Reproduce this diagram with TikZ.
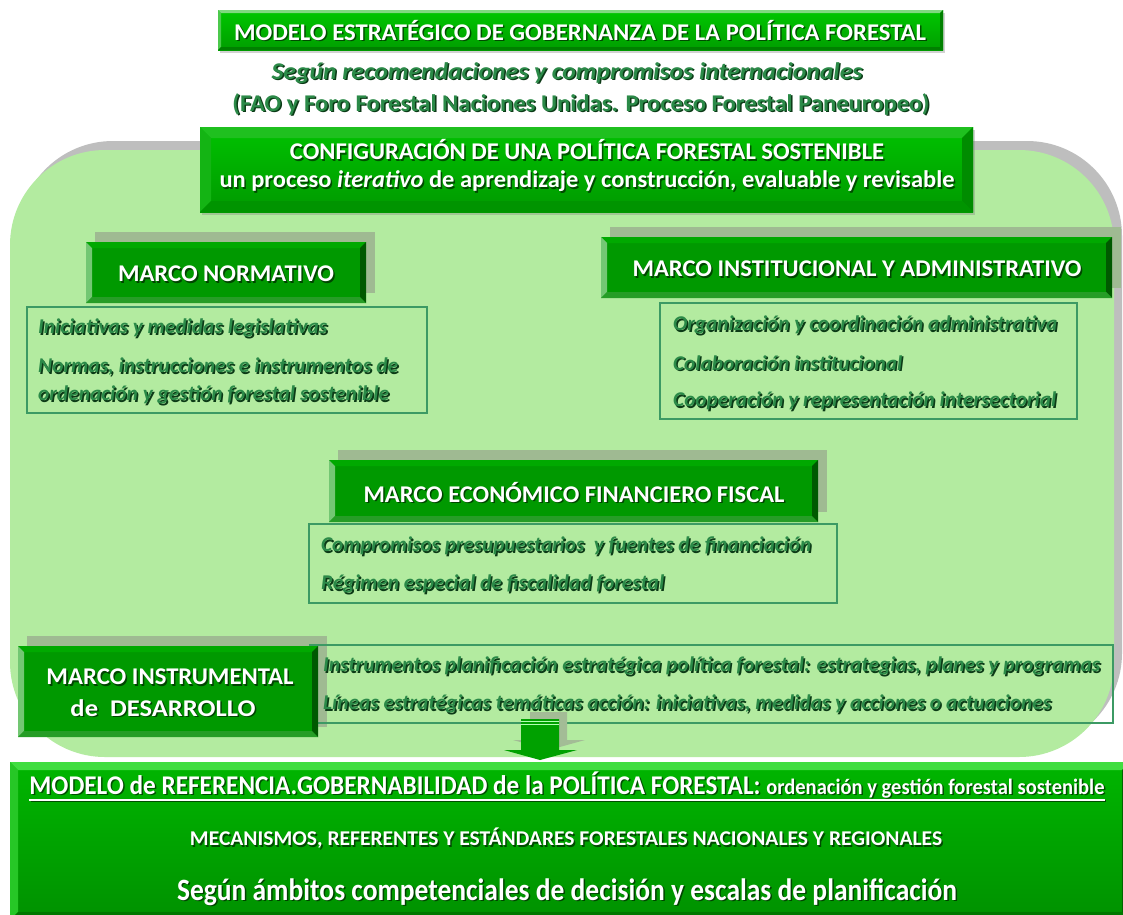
\documentclass[tikz,border=0pt]{standalone}
\usepackage{fontspec}
\setmainfont{Carlito}
\usepackage{graphicx}
\usetikzlibrary{calc,shadows}

\definecolor{panelc}{HTML}{B3EBA0}
\definecolor{pshadow}{HTML}{BEBEBE}
\definecolor{gface}{HTML}{009900}
\definecolor{boxshadow}{HTML}{9FBA92}
\definecolor{tgreen}{HTML}{2B8A48}
\definecolor{tshadow}{HTML}{0B3A16}
\definecolor{tbord}{HTML}{3C9A64}
\definecolor{arrsh}{HTML}{A3BC96}

\newcommand{\myfs}[1]{\fontsize{#1}{#1}\selectfont\bfseries}
\newcommand{\mywt}[5]{%
  \node[anchor=#2, inner sep=0pt, text=black, opacity=0.55] (#1-s) at ($#3+(1.5,1.6)$) {\resizebox{#4pt}{\height}{#5}};
  \node[anchor=#2, inner sep=0pt, text=white] (#1) at #3 {\resizebox{#4pt}{\height}{#5}};}
\newcommand{\mygt}[5]{%
  \node[anchor=#2, inner sep=0pt, text=tshadow] (#1-s) at ($#3+(1.5,1.5)$) {\resizebox{#4pt}{\height}{#5}};
  \node[anchor=#2, inner sep=0pt, text=tgreen] (#1) at #3 {\resizebox{#4pt}{\height}{#5}};}
\newcommand{\mybevel}[6]{%
  \fill[#3] (#1.north west) -- (#1.north east) -- ([shift={(-#2pt,-#2pt)}]#1.north east) -- ([shift={(#2pt,-#2pt)}]#1.north west) -- cycle;
  \fill[#4] (#1.north west) -- ([shift={(#2pt,-#2pt)}]#1.north west) -- ([shift={(#2pt,#2pt)}]#1.south west) -- (#1.south west) -- cycle;
  \fill[#5] (#1.north east) -- (#1.south east) -- ([shift={(-#2pt,#2pt)}]#1.south east) -- ([shift={(-#2pt,-#2pt)}]#1.north east) -- cycle;
  \fill[#6] (#1.south west) -- ([shift={(#2pt,#2pt)}]#1.south west) -- ([shift={(-#2pt,#2pt)}]#1.south east) -- (#1.south east) -- cycle;}
\newcommand{\marcobevel}[1]{\mybevel{#1}{6}{fill=green!55!black!75!green}{fill=green!60!black!55!white}{fill=green!35!black}{fill=green!55!black!85!white}}

\tikzset{
  panelsh/.style={fill=pshadow, rounded corners=95pt, minimum width=1104pt, minimum height=607pt, inner sep=0pt, outer sep=0pt},
  panelbx/.style={panelsh, fill=panelc},
  gbox/.style={fill=gface, inner sep=0pt, outer sep=0pt},
  gshadow/.style={fill=boxshadow, inner sep=0pt, outer sep=0pt},
  tbox/.style={draw=tbord, line width=1.1pt, inner sep=0pt, outer sep=0pt},
}

\begin{document}
\begin{tikzpicture}[x=1pt,y=-1pt]
\useasboundingbox (0,0) rectangle (1123,914);
\fill[white] (0,0) rectangle (1123,914);

% big panel
\node[panelsh] (panelsh) at (570,444.5) {};
\node[panelbx] (panel) at (562,453.5) {};

% title
\node[gbox, top color=green!60!black!55!green, bottom color=green!62!black, minimum width=725pt, minimum height=40pt,
      drop shadow={shadow xshift=1.5pt, shadow yshift=-3pt, opacity=0.35}] (title) at (580.5,30) {};
\mybevel{title}{3}{fill=green!70!black!50!white}{fill=green!70!black!70!white}{fill=green!50!black}{fill=green!50!black}
\mywt{titlet}{center}{(580,30)}{692}{\myfs{24}MODELO ESTRATÉGICO DE GOBERNANZA DE LA POLÍTICA FORESTAL}

% subtitles
\mygt{sub1}{center}{(567,73)}{591}{\myfs{24}\itshape Según recomendaciones y compromisos internacionales}
\mygt{sub2}{center}{(581,104)}{697}{\myfs{24}(FAO y Foro Forestal Naciones Unidas. Proceso Forestal Paneuropeo)}

% configuracion
\node[gbox, top color=green!72!black!85!green, bottom color=green!60!black, minimum width=773pt, minimum height=85pt,
      drop shadow={shadow xshift=2pt, shadow yshift=-3pt, opacity=0.35}] (config) at (586.5,169.5) {};
\mybevel{config}{11}{fill=green!72!black!88!white}{fill=green!68!black!92!white}{fill=green!55!black}{fill=green!58!black}
\mywt{conf1}{center}{(587,150)}{594}{\myfs{24}CONFIGURACIÓN DE UNA POLÍTICA FORESTAL SOSTENIBLE}
\mywt{conf2}{center}{(587,181)}{735}{\myfs{24}un proceso \textit{iterativo} de aprendizaje y construcción, evaluable y revisable}

% marco normativo
\node[gshadow, minimum width=280pt, minimum height=61pt] (mnsh) at (235,262.5) {};
\node[tbox, minimum width=400pt, minimum height=106pt] (mntx) at (227,360) {};
\node[gbox, minimum width=280pt, minimum height=61pt] (mn) at (226,272.5) {};
\marcobevel{mn}
\mywt{mnt}{center}{(226,274)}{216}{\myfs{24}MARCO NORMATIVO}
\mygt{mn1}{west}{(38,328)}{289}{\myfs{21}\itshape Iniciativas y medidas legislativas}
\mygt{mn2}{west}{(38,367)}{360}{\myfs{21}\itshape Normas, instrucciones e instrumentos de}
\mygt{mn3}{west}{(38,395)}{351}{\myfs{21}\itshape ordenación y gestión forestal sostenible}

% marco institucional
\node[gshadow, minimum width=511pt, minimum height=61pt] (mish) at (865.5,257.5) {};
\node[tbox, minimum width=417pt, minimum height=116pt] (mitx) at (868.5,361) {};
\node[gbox, minimum width=511pt, minimum height=61pt] (mi) at (856.5,267.5) {};
\marcobevel{mi}
\mywt{mit}{center}{(857,269)}{449}{\myfs{24}MARCO INSTITUCIONAL Y ADMINISTRATIVO}
\mygt{mi1}{west}{(673,325)}{384}{\myfs{21}\itshape Organización y coordinación administrativa}
\mygt{mi2}{west}{(673,363)}{229}{\myfs{21}\itshape Colaboración institucional}
\mygt{mi3}{west}{(673,401)}{383}{\myfs{21}\itshape Cooperación y representación intersectorial}

% marco economico
\node[gshadow, minimum width=489pt, minimum height=62pt] (mesh) at (582.5,481) {};
\node[tbox, minimum width=528pt, minimum height=79pt] (metx) at (573,563.5) {};
\node[gbox, minimum width=489pt, minimum height=62pt] (me) at (573.5,491) {};
\marcobevel{me}
\mywt{met}{center}{(574,492)}{421}{\myfs{24}MARCO ECONÓMICO FINANCIERO FISCAL}
\mygt{me1}{west}{(321,546)}{490}{\myfs{21}\itshape Compromisos presupuestarios \ y fuentes de financiación}
\mygt{me2}{west}{(321,584)}{343}{\myfs{21}\itshape Régimen especial de fiscalidad forestal}

% marco instrumental
\node[gshadow, minimum width=300pt, minimum height=91pt] (minsh) at (177,681.5) {};
\node[tbox, minimum width=803pt, minimum height=78pt] (mintx) at (711.5,684) {};
\node[gbox, minimum width=300pt, minimum height=91pt] (mins) at (168,691.5) {};
\marcobevel{mins}
\mywt{mint1}{center}{(170,677)}{247}{\myfs{24}MARCO INSTRUMENTAL}
\mywt{mint2}{center}{(163,708)}{185}{\myfs{24}de \ DESARROLLO}
\mygt{min1}{west}{(323,666)}{777}{\myfs{21}\itshape Instrumentos planificación estratégica política forestal: estrategias, planes y programas}
\mygt{min2}{west}{(323,704)}{728}{\myfs{21}\itshape Líneas estratégicas temáticas acción: iniciativas, medidas y acciones o actuaciones}

% arrow
\fill[arrsh] (530,712) -- (567,712) -- (567,740) -- (585,740) -- (549,750) -- (513,740) -- (530,740) -- cycle;
\fill[green!63!black] (521,719) -- (559,719) -- (559,750) -- (577,750) -- (540,760) -- (504,750) -- (521,750) -- cycle;
\draw[white!70!green, line width=0.7pt] (521,721.5) -- (559,721.5);
\draw[white!70!green, line width=0.7pt] (521,724.5) -- (559,724.5);

% bottom box
\node[gbox, top color=green!68!black!90!green, bottom color=green!57!black, minimum width=1120pt, minimum height=158pt] (bottom) at (570,841) {};
\mybevel{bottom}{8}{fill=green!82!black!75!white}{fill=green!74!black!85!white}{fill=green!40!black}{fill=green!47!black}
\mywt{bot1}{center}{(567,786)}{1075}{\vbox{\hbox{\myfs{27}MODELO de REFERENCIA.GOBERNABILIDAD de la POLÍTICA FORESTAL: {\myfs{22}ordenación y gestión forestal sostenible}}\kern1pt\hrule height 1.7pt}}
\mywt{bot2}{center}{(566,838)}{752}{\myfs{21}MECANISMOS, REFERENTES Y ESTÁNDARES FORESTALES NACIONALES Y REGIONALES}
\mywt{bot3}{center}{(567,892)}{780}{\myfs{31}Según ámbitos competenciales de decisión y escalas de planificación}
\end{tikzpicture}
\end{document}
